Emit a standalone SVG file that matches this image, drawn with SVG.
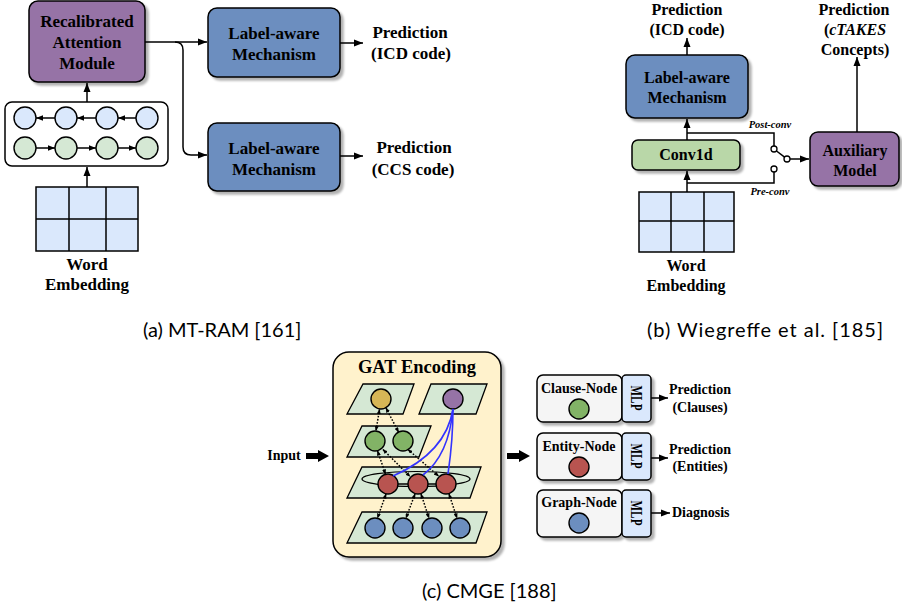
<svg xmlns="http://www.w3.org/2000/svg" width="902" height="616" viewBox="0 0 902 616">
<defs>
<filter id="sh" x="-10%" y="-10%" width="130%" height="130%"><feDropShadow dx="3" dy="3" stdDeviation="1.2" flood-color="#000" flood-opacity="0.3"/></filter>
<marker id="ar" markerUnits="userSpaceOnUse" markerWidth="10" markerHeight="8" refX="9" refY="4" orient="auto"><path d="M0,0.5 L9,4 L0,7.5 Z" fill="#000"/></marker>
<marker id="as" markerUnits="userSpaceOnUse" markerWidth="8" markerHeight="6" refX="7" refY="3" orient="auto"><path d="M0,0.3 L7,3 L0,5.7 Z" fill="#000"/></marker>
<marker id="ad" markerUnits="userSpaceOnUse" markerWidth="5" markerHeight="4" refX="4.5" refY="2" orient="auto-start-reverse"><path d="M0,0 L5,2 L0,4 Z" fill="#000"/></marker>
</defs>
<style>
.b{font-family:"Liberation Serif","Times New Roman",serif;font-weight:bold;fill:#000;text-anchor:middle}
.f17{font-size:17px}.f16{font-size:16px}.f14{font-size:14px}
.bx{stroke:#000;stroke-width:1.5}
.ln{fill:none;stroke:#000;stroke-width:1.5}
.dt{fill:none;stroke:#000;stroke-width:1.5;stroke-dasharray:1.6 1.6;marker-start:url(#ad);marker-end:url(#ad)}
.bl{fill:none;stroke:#3333FF;stroke-width:1.6}
.pg{fill:#D5E8D4;stroke:#000;stroke-width:1.3}
.cap{font-family:Lato,"Noto Sans",sans-serif;font-size:20px;fill:#000}
.sm{font-family:"Liberation Serif",serif;font-weight:bold;font-style:italic;font-size:10.5px;text-anchor:middle}
</style>
<rect width="902" height="616" fill="#fff"/>

<!-- ===== (a) MT-RAM ===== -->
<g id="a-embedding">
<rect x="36" y="187" width="102" height="64" fill="#DAE8FC" class="bx"/>
<path d="M69,187 V251 M106,187 V251 M36,219 H138" class="ln"/>
<text class="b f17" x="87" y="270">Word</text>
<text class="b f17" x="87" y="290">Embedding</text>
</g>
<g id="a-bilstm">
<rect x="5" y="102" width="163" height="64" rx="7" fill="#fff" class="bx"/>
<g fill="#DAE8FC" stroke="#000" stroke-width="1.4">
<circle cx="25" cy="118" r="11"/><circle cx="66" cy="118" r="11"/><circle cx="107" cy="118" r="11"/><circle cx="147" cy="118" r="11"/>
</g>
<g fill="#D5E8D4" stroke="#000" stroke-width="1.4">
<circle cx="25" cy="148" r="11"/><circle cx="66" cy="148" r="11"/><circle cx="107" cy="148" r="11"/><circle cx="147" cy="148" r="11"/>
</g>
<path d="M55,118 H36" class="ln" marker-end="url(#as)"/>
<path d="M96,118 H77" class="ln" marker-end="url(#as)"/>
<path d="M136,118 H118" class="ln" marker-end="url(#as)"/>
<path d="M36,148 H55" class="ln" marker-end="url(#as)"/>
<path d="M77,148 H96" class="ln" marker-end="url(#as)"/>
<path d="M118,148 H136" class="ln" marker-end="url(#as)"/>
</g>
<g id="a-ram">
<rect x="29" y="1" width="116" height="81" rx="9" fill="#9673A6" class="bx" filter="url(#sh)"/>
<text class="b f17" x="87" y="27">Recalibrated</text>
<text class="b f17" x="87" y="48">Attention</text>
<text class="b f17" x="87" y="69">Module</text>
</g>
<g id="a-label1">
<rect x="208" y="8" width="132" height="69" rx="9" fill="#6C8EBF" class="bx" filter="url(#sh)"/>
<text class="b f17" x="274" y="39">Label-aware</text>
<text class="b f17" x="274" y="60">Mechanism</text>
</g>
<g id="a-label2">
<rect x="208" y="123" width="132" height="68" rx="9" fill="#6C8EBF" class="bx" filter="url(#sh)"/>
<text class="b f17" x="274" y="154">Label-aware</text>
<text class="b f17" x="274" y="175">Mechanism</text>
</g>
<g id="a-pred1">
<text class="b f17" x="410" y="38">Prediction</text>
<text class="b f17" x="411" y="59">(ICD code)</text>
</g>
<g id="a-pred2">
<text class="b f17" x="414" y="153">Prediction</text>
<text class="b f17" x="413" y="175">(CCS code)</text>
</g>

<!-- ===== (b) Wiegreffe ===== -->
<g id="b-embedding">
<rect x="639" y="192" width="95" height="60" fill="#DAE8FC" class="bx"/>
<path d="M671,192 V252 M704,192 V252 M639,221 H734" class="ln"/>
<text class="b f16" x="686" y="271">Word</text>
<text class="b f16" x="686" y="291">Embedding</text>
</g>
<g id="b-conv1d">
<rect x="632" y="140" width="108" height="30" rx="6" fill="#B9D7A8" class="bx" filter="url(#sh)"/>
<text class="b f16" x="686" y="160">Conv1d</text>
</g>
<g id="b-label">
<rect x="626" y="55" width="122" height="63" rx="9" fill="#6C8EBF" class="bx" filter="url(#sh)"/>
<text class="b f16" x="687" y="83">Label-aware</text>
<text class="b f16" x="687" y="103">Mechanism</text>
</g>
<g id="b-pred1">
<text class="b f16" x="687" y="15">Prediction</text>
<text class="b f16" x="687" y="35">(ICD code)</text>
</g>
<g id="b-aux">
<rect x="810" y="132" width="89" height="54" rx="8" fill="#9673A6" class="bx" filter="url(#sh)"/>
<text class="b f16" x="855" y="156">Auxiliary</text>
<text class="b f16" x="855" y="176">Model</text>
</g>
<g id="b-pred2">
<text class="b f16" x="854" y="15">Prediction</text>
<text class="b f16" x="855" y="35">(<tspan font-style="italic">cTAKES</tspan></text>
<text class="b f16" x="855" y="55">Concepts)</text>
</g>
<g id="b-switch">
<circle cx="774" cy="149" r="3" fill="#fff" stroke="#000" stroke-width="1.3"/>
<circle cx="787" cy="159" r="3" fill="#fff" stroke="#000" stroke-width="1.3"/>
<circle cx="774" cy="169" r="3" fill="#fff" stroke="#000" stroke-width="1.3"/>
<path d="M776.5,151 L784.6,157.2" class="ln" stroke-width="1.3"/>
<text class="sm" x="770" y="128">Post-conv</text>
<text class="sm" x="770" y="195">Pre-conv</text>
</g>

<!-- ===== (c) CMGE ===== -->
<g id="c-gat">
<rect x="333" y="352" width="168" height="205" rx="16" fill="#FFF2CC" class="bx" filter="url(#sh)"/>
<text class="b" font-size="18.5" x="417" y="373">GAT Encoding</text>
<polygon class="pg" points="363,384 414,384 403,414 347,414"/>
<polygon class="pg" points="431,384 487,384 476,414 419,414"/>
<polygon class="pg" points="362,426 431,426 419,457 347,457"/>
<polygon class="pg" points="362,467 481,467 470,498 347,498"/>
<polygon class="pg" points="362,512 487,512 476,543 347,543"/>
<ellipse cx="416" cy="479" rx="54" ry="7.5" fill="none" stroke="#000" stroke-width="1.2"/>
<path d="M388,484 H446" stroke="#000" stroke-width="1.4"/>
<g stroke="#000" stroke-width="1.4">
<circle cx="381" cy="399" r="10" fill="#D6B656"/>
<circle cx="453" cy="399" r="10" fill="#9673A6"/>
<circle cx="375" cy="441" r="10" fill="#82B366"/>
<circle cx="403" cy="441" r="10" fill="#82B366"/>
<circle cx="388" cy="484" r="10" fill="#B85450"/>
<circle cx="418" cy="484" r="10" fill="#B85450"/>
<circle cx="446" cy="484" r="10" fill="#B85450"/>
<circle cx="375" cy="528" r="10" fill="#6C8EBF"/>
<circle cx="403" cy="528" r="10" fill="#6C8EBF"/>
<circle cx="432" cy="528" r="10" fill="#6C8EBF"/>
<circle cx="460" cy="528" r="10" fill="#6C8EBF"/>
</g>
</g>
<g id="c-input">
<text class="b f14" x="284" y="460">Input</text>
</g>
<g id="c-clause">
<rect x="537" y="375" width="85" height="47" rx="6" fill="#F5F5F5" class="bx" filter="url(#sh)"/>
<rect x="622" y="375" width="29" height="47" rx="4" fill="#DAE8FC" class="bx" filter="url(#sh)"/>
<text class="b f14" x="579" y="393">Clause-Node</text>
<circle cx="579" cy="409" r="10" fill="#82B366" stroke="#000" stroke-width="1.4"/>
<text class="b" font-size="16" transform="translate(631,398) rotate(90)" textLength="25" lengthAdjust="spacingAndGlyphs">MLP</text>
</g>
<g id="c-entity">
<rect x="537" y="433" width="85" height="47" rx="6" fill="#F5F5F5" class="bx" filter="url(#sh)"/>
<rect x="622" y="433" width="29" height="47" rx="4" fill="#DAE8FC" class="bx" filter="url(#sh)"/>
<text class="b f14" x="579" y="451">Entity-Node</text>
<circle cx="579" cy="467" r="10" fill="#B85450" stroke="#000" stroke-width="1.4"/>
<text class="b" font-size="16" transform="translate(631,456) rotate(90)" textLength="25" lengthAdjust="spacingAndGlyphs">MLP</text>
</g>
<g id="c-graph">
<rect x="537" y="490" width="85" height="47" rx="6" fill="#F5F5F5" class="bx" filter="url(#sh)"/>
<rect x="622" y="490" width="29" height="47" rx="4" fill="#DAE8FC" class="bx" filter="url(#sh)"/>
<text class="b f14" x="579" y="507">Graph-Node</text>
<circle cx="579" cy="523" r="10" fill="#6C8EBF" stroke="#000" stroke-width="1.4"/>
<text class="b" font-size="16" transform="translate(631,513) rotate(90)" textLength="25" lengthAdjust="spacingAndGlyphs">MLP</text>
</g>
<g id="c-outputs">
<text class="b f14" x="700" y="394">Prediction</text>
<text class="b f14" x="700" y="412">(Clauses)</text>
<text class="b f14" x="700" y="454">Prediction</text>
<text class="b f14" x="700" y="471">(Entities)</text>
<text class="b f14" x="672" y="517" style="text-anchor:start">Diagnosis</text>
</g>

<!-- ===== connectors ===== -->
<g id="connectors">
<!-- (a) -->
<path d="M87,187 V167" class="ln" marker-end="url(#ar)"/>
<path d="M87,102 V83" class="ln" marker-end="url(#ar)"/>
<path d="M145,42 H207" class="ln" marker-end="url(#ar)"/>
<path d="M175,42 Q183,42 183,50 V147 Q183,155 191,155 H207" class="ln" marker-end="url(#ar)"/>
<path d="M340,43 H363" class="ln" marker-end="url(#ar)"/>
<path d="M340,156 H363" class="ln" marker-end="url(#ar)"/>
<!-- (b) -->
<path d="M687,192 V171" class="ln" marker-end="url(#ar)"/>
<path d="M687,140 V119" class="ln" marker-end="url(#ar)"/>
<path d="M687,55 V38" class="ln" marker-end="url(#ar)"/>
<path d="M857,132 V57" class="ln" marker-end="url(#ar)"/>
<path d="M687,133 H774 V146" class="ln" stroke-width="1.3"/>
<path d="M687,183 H774 V172" class="ln" stroke-width="1.3"/>
<path d="M790,159 H809" class="ln" marker-end="url(#ar)"/>
<!-- (c) -->
<polygon points="306,453 318,453 318,450 329,456 318,462 318,459 306,459" fill="#000"/>
<polygon points="507,453 519,453 519,450 530,456 519,462 519,459 507,459" fill="#000"/>
<path d="M651,398 H668" class="ln" marker-end="url(#ar)"/>
<path d="M651,458 H668" class="ln" marker-end="url(#ar)"/>
<path d="M651,513 H670" class="ln" marker-end="url(#ar)"/>
<path class="dt" d="M379.5,409.5 L376,430.5"/>
<path class="dt" d="M386,408 L398.5,432"/>
<path class="dt" d="M377.5,451 L385.5,474"/>
<path class="dt" d="M383,449.5 L410,476.5"/>
<path class="dt" d="M408,449.5 L438.5,476"/>
<path class="dt" d="M386,494 L377.5,518"/>
<path class="dt" d="M415,494 L406,518"/>
<path class="dt" d="M421,494 L429,518"/>
<path class="dt" d="M449,494 L457,518"/>
<path class="bl" d="M453,409 C448,440 425,462 393,476"/>
<path class="bl" d="M453,409 C450,442 440,462 423,475"/>
<path class="bl" d="M453,409 C453,440 450,460 448,474"/>
</g>

<!-- captions -->
<text class="cap" x="143" y="337">(a) MT-RAM [161]</text>
<text class="cap" x="647" y="337" textLength="236">(b) Wiegreffe et al. [185]</text>
<text class="cap" x="422" y="598">(c) CMGE [188]</text>
</svg>
